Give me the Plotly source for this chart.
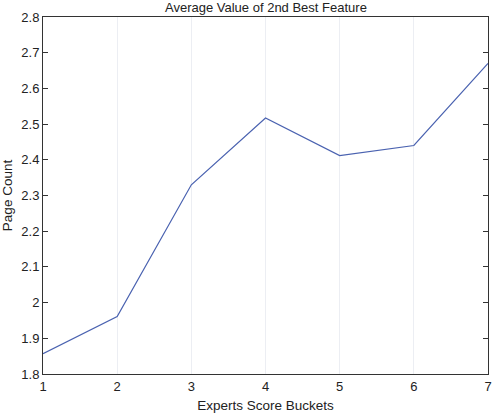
import plotly.graph_objects as go

buckets = [1, 2, 3, 4, 5, 6, 7]
page_count = [1.857, 1.961, 2.33, 2.517, 2.412, 2.44, 2.67]
y_ticks = [1.8, 1.9, 2.0, 2.1, 2.2, 2.3, 2.4, 2.5, 2.6, 2.7, 2.8]
y_tick_labels = ["1.8", "1.9", "2", "2.1", "2.2", "2.3", "2.4", "2.5", "2.6", "2.7", "2.8"]

fig = go.Figure()
fig.add_trace(go.Scatter(x=buckets, y=page_count, mode="lines",
                         line=dict(color="#4a62b0", width=1.2), showlegend=False))

font = dict(family="Liberation Sans, Arial, sans-serif", size=12, color="#222")

fig.update_layout(
    width=495, height=414,
    margin=dict(l=43, r=7, t=17, b=40),
    paper_bgcolor="white", plot_bgcolor="white",
    font=font,
    xaxis=dict(range=[1, 7], tickvals=buckets, ticks="", showgrid=True,
               gridcolor="#eceef3", gridwidth=1, showline=True, linecolor="#333",
               linewidth=1, mirror=True, zeroline=False, automargin=False,
               title=dict(text="Experts Score Buckets", standoff=7,
                          font=dict(size=13.5, color="#222")),
               tickfont=dict(size=13, color="#222")),
    yaxis=dict(range=[1.8, 2.8], tickvals=y_ticks, ticktext=y_tick_labels,
               ticks="inside", ticklen=5, tickcolor="#333", showgrid=False,
               showline=True, linecolor="#333", linewidth=1, mirror="ticks",
               zeroline=False, automargin=False,
               title=dict(text="Page Count", standoff=8,
                          font=dict(size=13.5, color="#222")),
               tickfont=dict(size=13, color="#222")),
    annotations=[dict(text="Average Value of 2nd Best Feature", x=0.5, xref="paper",
                      y=1.0, yref="paper", yanchor="bottom", yshift=0,
                      showarrow=False, font=dict(size=13, color="#222"))],
)

fig.write_html("out.html")
